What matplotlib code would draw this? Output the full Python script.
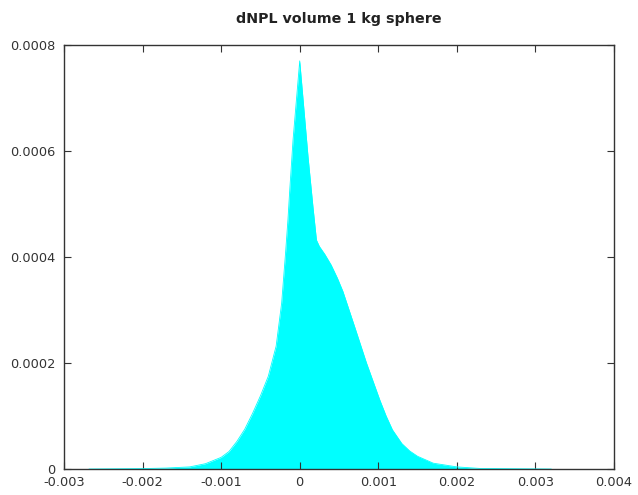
import matplotlib.pyplot as plt

# dNPL volume distribution
x_vals = [-0.00268, -0.00200, -0.00170, -0.00140, -0.00120, -0.00100,
          -0.00090, -0.00080, -0.00070, -0.00060, -0.00050, -0.00040,
          -0.00030, -0.00023, -0.00018, -0.00015, -0.000127, -0.000085,
          0.0, 0.000051, 0.000106, 0.000169, 0.000213, 0.00025, 0.00032,
          0.00040, 0.00048, 0.00055, 0.00070, 0.00085, 0.00102, 0.00110,
          0.00118, 0.00130, 0.00140, 0.00150, 0.00170, 0.00200, 0.00230,
          0.00320]
density = [0.0, 0.0000008, 0.0000018, 0.000004, 0.00001, 0.000022,
           0.000033, 0.000052, 0.000075, 0.000105, 0.000138, 0.000175,
           0.000232, 0.000313, 0.000408, 0.00047, 0.000526, 0.000621,
           0.00077, 0.000683, 0.000589, 0.000494, 0.000432, 0.00042,
           0.000405, 0.000385, 0.00036, 0.000335, 0.000268, 0.0002,
           0.00013, 0.0001, 0.000074, 0.000048, 0.000034, 0.000024,
           0.000011, 0.000004, 0.000001, 0.0]

x_ticks = [-0.003, -0.002, -0.001, 0, 0.001, 0.002, 0.003, 0.004]
x_labels = ["-0.003", "-0.002", "-0.001", "0", "0.001", "0.002", "0.003", "0.004"]
y_ticks = [0, 0.0002, 0.0004, 0.0006, 0.0008]
y_labels = ["0", "0.0002", "0.0004", "0.0006", "0.0008"]

fig = plt.figure(figsize=(6.38, 4.95), dpi=100)
ax = fig.add_axes([0.1003, 0.0525, 0.8621, 0.8566])

ax.fill_between(x_vals, density, 0, color="#00ffff", linewidth=0)
ax.plot(x_vals, density, color="#00ffff", linewidth=0.6)

ax.set_xlim(-0.003, 0.004)
ax.set_ylim(0, 0.0008)
ax.set_xticks(x_ticks)
ax.set_xticklabels(x_labels)
ax.set_yticks(y_ticks)
ax.set_yticklabels(y_labels)
ax.tick_params(direction="in", top=True, right=True, length=5, width=0.8,
               color="#333333", labelsize=9.3, labelcolor="#333333")
ax.tick_params(axis="x", pad=5)
ax.tick_params(axis="y", pad=6)
for sp in ax.spines.values():
    sp.set_color("#333333")
    sp.set_linewidth(1.0)

ax.set_title("dNPL volume 1 kg sphere", fontsize=10.3, fontweight="bold",
             color="#222222", pad=16)

fig.savefig("out.png", dpi=100)
